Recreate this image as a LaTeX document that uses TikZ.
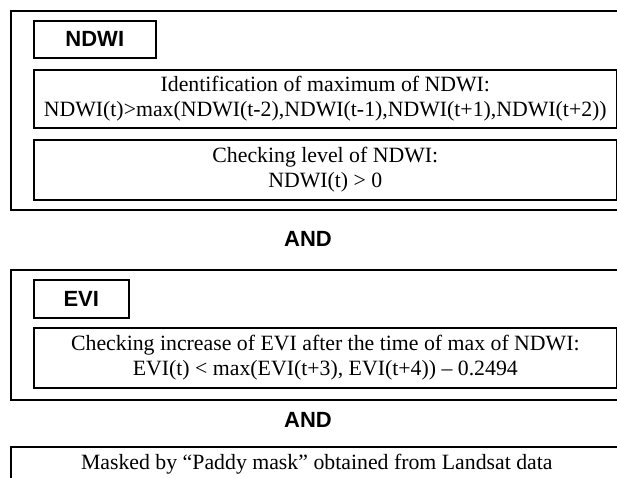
\documentclass[tikz,border=0pt]{standalone}
\usepackage{fontspec}
\setmainfont{Liberation Serif}
\newfontfamily\headfont{Liberation Sans}
\usetikzlibrary{positioning}
\tikzset{
  groupbox/.style={rectangle, draw=black, line width=1.6pt, anchor=north west, minimum width=612pt, inner sep=0pt},
  tagbox/.style={rectangle, draw=black, line width=1.6pt, anchor=north west, inner sep=0pt, font=\headfont\bfseries\fontsize{22}{26}\selectfont},
  rulebox/.style={rectangle, draw=black, line width=1.6pt, anchor=north west, minimum width=583pt, inner sep=0pt, align=center, font=\fontsize{21.8}{24.5}\selectfont},
  andlabel/.style={font=\headfont\bfseries\fontsize{22}{26}\selectfont}
}

\begin{document}
\begin{tikzpicture}[x=1pt, y=-1pt]
\useasboundingbox (0,0) rectangle (617,478);
\clip (0,0) rectangle (617,478);

% NDWI group
\node[groupbox, minimum height=199pt] (ndwigroup) at (10,10) {};
\node[tagbox, minimum width=122pt, minimum height=37pt] (ndwitag) at (33,20) {NDWI};
\node[rulebox, minimum height=58pt] (ndwimax) at (33,69)
  {Identification of maximum of NDWI:\\NDWI(t)>max(NDWI(t-2),NDWI(t-1),NDWI(t+1),NDWI(t+2))};
\node[rulebox, minimum height=60pt] (ndwilevel) at (33,139)
  {Checking level of NDWI:\\NDWI(t) > 0};

\node[andlabel] (and1) at (308,239) {AND};

% EVI group
\node[groupbox, minimum height=130pt] (evigroup) at (10,269) {};
\node[tagbox, minimum width=95pt, minimum height=38pt] (evitag) at (33,279) {EVI};
\node[rulebox, minimum height=60pt] (eviincrease) at (33,327)
  {Checking increase of EVI after the time of max of NDWI:\\EVI(t) < max(EVI(t+3), EVI(t+4)) -- 0.2494};

\node[andlabel] (and2) at (308,420) {AND};

% Landsat mask
\node[groupbox, minimum height=34pt, align=center, font=\fontsize{21.8}{24.5}\selectfont] (paddymask) at (10,446)
  {Masked by “Paddy mask” obtained from Landsat data};

\end{tikzpicture}
\end{document}
